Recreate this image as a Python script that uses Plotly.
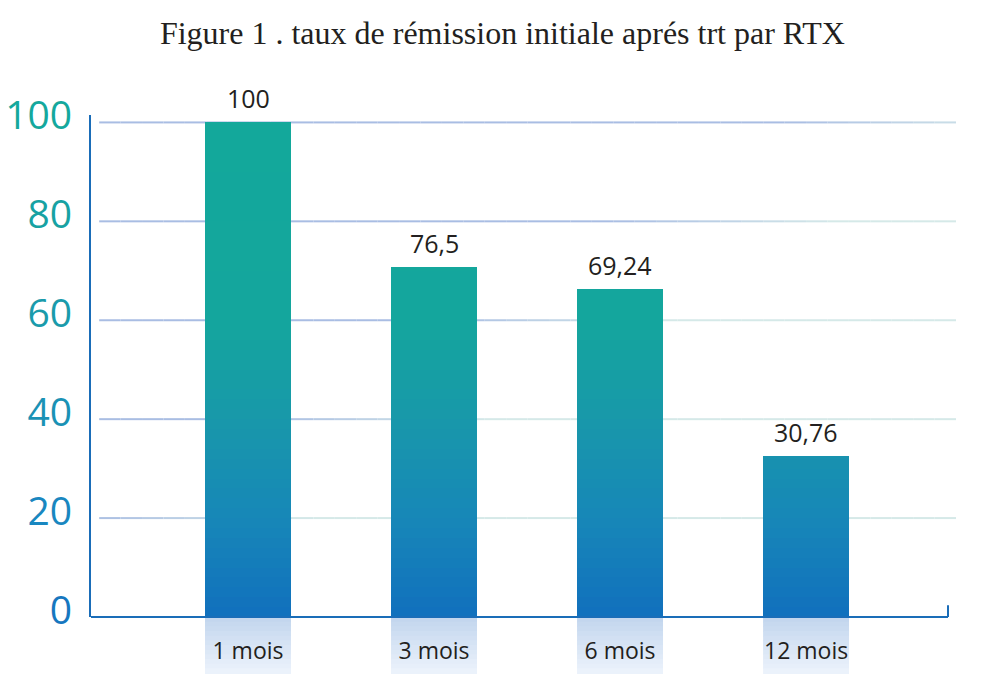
import plotly.graph_objects as go

# data
categories = ["1 mois", "3 mois", "6 mois", "12 mois"]
bar_heights = [100, 70.8, 66.3, 32.6]  # bar tops as drawn
bar_labels = ["100", "76,5", "69,24", "30,76"]  # values printed above the bars
y_ticks = [0, 20, 40, 60, 80, 100]
title_text = "Figure 1 . taux de rémission initiale aprés trt par RTX"

# styling
BAR_STOPS = [(0, "#1170bd"), (20, "#1787b8"), (40, "#1898aa"), (60, "#14a69d"), (100, "#13a89b")]
TICK_COLORS = ["#1677bf", "#1987c0", "#1a92b5", "#1a9bab", "#17a2a3", "#14a89d"]
GRID_BLUE = "#a9bde3"
GRID_TEAL = "#d5e9e8"
BOX_TOP = "#c3d6ee"
BOX_BOTTOM = "#ebf2fb"
AXIS_COLOR = "#1a6db8"
TEXT_COLOR = "#231f20"
BAR_WIDTH = 0.462
X_RANGE = [-0.844, 3.806]
Y_RANGE = [0, 101.5]


def to_rgb(h):
    h = h.lstrip("#")
    return [int(h[i:i + 2], 16) for i in (0, 2, 4)]


def mix(c1, c2, t):
    a, b = to_rgb(c1), to_rgb(c2)
    t = max(0.0, min(1.0, t))
    return "rgb(%d,%d,%d)" % tuple(round(a[i] + (b[i] - a[i]) * t) for i in range(3))


def scale_color(stops, v):
    if v <= stops[0][0]:
        return mix(stops[0][1], stops[0][1], 0)
    for (p0, c0), (p1, c1) in zip(stops, stops[1:]):
        if v <= p1:
            return mix(c0, c1, (v - p0) / (p1 - p0))
    return mix(stops[-1][1], stops[-1][1], 0)


fig = go.Figure()

# vertical gradient on the bars: overlaid bars, tallest level first
step = 2
for top in range(102, 0, -step):
    fig.add_bar(
        x=categories,
        y=[min(v, top) for v in bar_heights],
        width=BAR_WIDTH,
        marker_color=scale_color(BAR_STOPS, top - step / 2),
        marker_line_width=0,
        hoverinfo="skip",
        showlegend=False,
    )

shapes = []

# gridlines with a diagonal blue -> teal fade
n_seg = 40
x_start, x_end = -0.80, X_RANGE[1]
for g in y_ticks[1:]:
    centre = -0.26 + (g - 20) * 0.047
    for k in range(n_seg):
        xa = x_start + (x_end - x_start) * k / n_seg
        xb = x_start + (x_end - x_start) * (k + 1) / n_seg
        t = ((xa + xb) / 2 - centre) / 1.2 + 0.5
        shapes.append(dict(
            type="line", xref="x", yref="y", x0=xa, x1=xb, y0=g, y1=g,
            line=dict(color=mix(GRID_BLUE, GRID_TEAL, t), width=2), layer="below",
        ))

# light boxes behind the category labels
n_box = 12
box_depth = 56 / 502
for i in range(len(categories)):
    for k in range(n_box):
        shapes.append(dict(
            type="rect", xref="x", yref="paper",
            x0=i - BAR_WIDTH / 2, x1=i + BAR_WIDTH / 2,
            y0=-box_depth * k / n_box, y1=-box_depth * (k + 1) / n_box - 0.002,
            fillcolor=mix(BOX_TOP, BOX_BOTTOM, k / (n_box - 1)),
            line_width=0, layer="below",
        ))

# bottom axis line ending with a small upward tick
x_axis_end = 3.763
shapes.append(dict(type="line", xref="x", yref="paper", x0=X_RANGE[0], x1=x_axis_end,
                   y0=0, y1=0, line=dict(color=AXIS_COLOR, width=2.2), layer="above"))
shapes.append(dict(type="line", xref="x", yref="y", x0=x_axis_end, x1=x_axis_end,
                   y0=0, y1=2.4, line=dict(color=AXIS_COLOR, width=2), layer="above"))

annotations = [
    dict(x=c, y=v, text=lab, showarrow=False, yanchor="bottom", yshift=5,
         font=dict(family="Open Sans", size=25, color=TEXT_COLOR))
    for c, v, lab in zip(categories, bar_heights, bar_labels)
]

fig.update_layout(
    width=989,
    height=684,
    margin=dict(l=91, r=33, t=115, b=67),
    paper_bgcolor="white",
    plot_bgcolor="white",
    barmode="overlay",
    bargap=0,
    showlegend=False,
    shapes=shapes,
    annotations=annotations,
    title=dict(
        text=title_text, xref="container", x=0.508, y=1 - 33 / 684,
        xanchor="center", yanchor="middle",
        font=dict(family="Liberation Serif", size=32, color=TEXT_COLOR),
    ),
    xaxis=dict(
        type="category", range=X_RANGE, showgrid=False, zeroline=False,
        showline=False, ticks="", ticklabelstandoff=18, automargin=False,
        tickfont=dict(family="Open Sans", size=23, color=TEXT_COLOR),
    ),
    yaxis=dict(
        range=Y_RANGE, showgrid=False, zeroline=False, automargin=False,
        showline=True, linecolor=AXIS_COLOR, linewidth=2.2,
        ticks="", tickvals=y_ticks,
        ticktext=['<span style="color:%s">%d</span>' % (c, v) for c, v in zip(TICK_COLORS, y_ticks)],
        ticklabelstandoff=9, ticklabelshift=-7,
        tickfont=dict(family="Open Sans", size=39),
    ),
)

# the page has a default 8px body margin; drop it so the figure fills the window
fig.write_html(
    "out.html",
    config={"displayModeBar": False},
    post_script="document.body.style.margin = '0';",
)
